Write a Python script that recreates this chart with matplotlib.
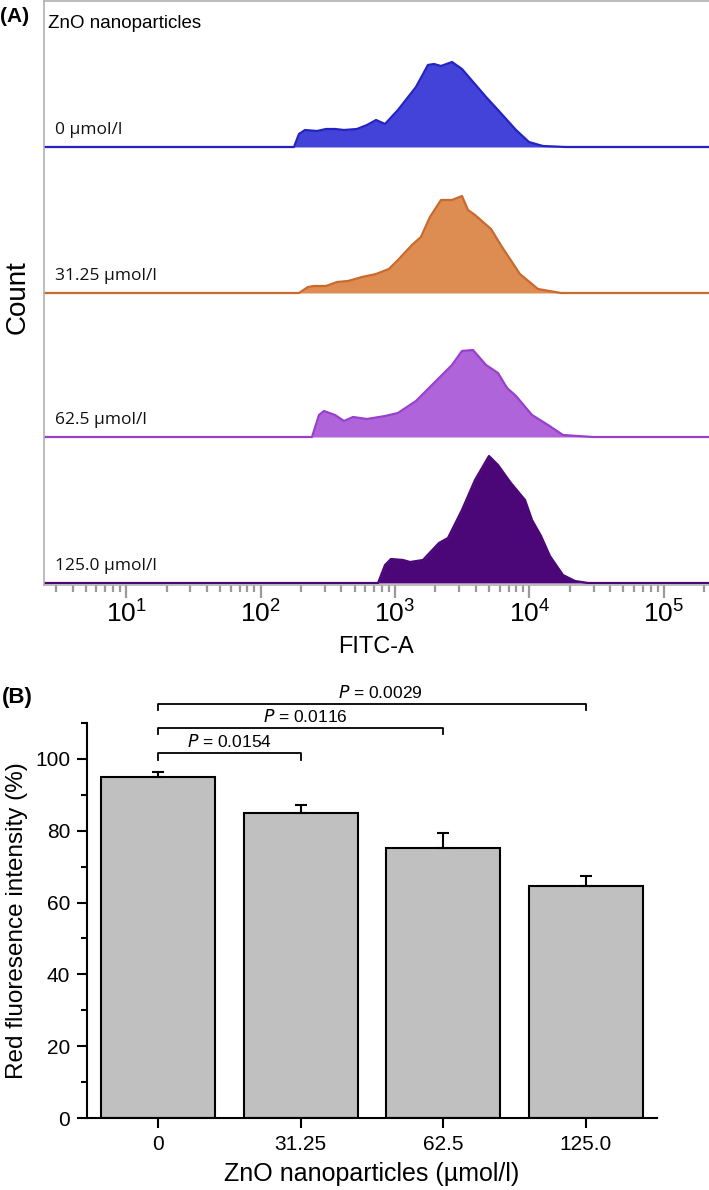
import matplotlib
matplotlib.use("Agg")
import matplotlib.pyplot as plt
import numpy as np
from matplotlib.ticker import LogLocator, NullFormatter, MultipleLocator, FixedLocator

# ---- data ----
# (A) flow cytometry histograms: log10(FITC-A) and count (relative)
conc_labels = ["0 \u00b5mol/l", "31.25 \u00b5mol/l", "62.5 \u00b5mol/l", "125.0 \u00b5mol/l"]

logx_0 = [2.249, 2.286, 2.331, 2.420, 2.487, 2.554, 2.621, 2.717, 2.792, 2.859, 2.926,
          3.022, 3.156, 3.245, 3.290, 3.342, 3.424, 3.498, 3.677, 3.766, 3.900, 3.996,
          4.100, 4.271]
cnt_0 = [0, 13, 17, 16, 18, 18, 17, 18, 22, 27, 23, 37, 60, 82, 83, 81, 85, 78, 50,
         37, 17, 5, 1, 0]

logx_31 = [2.286, 2.353, 2.398, 2.487, 2.569, 2.651, 2.755, 2.859, 2.955, 3.022, 3.126,
           3.193, 3.260, 3.342, 3.424, 3.498, 3.543, 3.595, 3.714, 3.796, 3.929, 4.063,
           4.234]
cnt_31 = [0, 6, 7, 7, 11, 12, 16, 19, 24, 33, 48, 56, 76, 93, 93, 97, 83, 78, 64, 46,
          19, 4, 0]

logx_62 = [2.383, 2.435, 2.472, 2.554, 2.621, 2.688, 2.792, 2.926, 3.022, 3.156, 3.290,
           3.424, 3.498, 3.580, 3.677, 3.766, 3.833, 3.900, 4.019, 4.138, 4.249, 4.472]
cnt_62 = [0, 22, 26, 22, 16, 20, 18, 21, 24, 36, 54, 72, 86, 87, 72, 64, 49, 41, 22,
          12, 2, 0]

logx_125 = [2.874, 2.926, 2.970, 3.059, 3.112, 3.208, 3.327, 3.394, 3.498, 3.595, 3.699,
            3.766, 3.862, 3.967, 4.019, 4.086, 4.152, 4.249, 4.338, 4.435]
cnt_125 = [0, 18, 24, 23, 21, 23, 40, 45, 73, 103, 127, 118, 100, 83, 63, 47, 27, 8,
           2, 0]

# (B) bar chart
groups = ["0", "31.25", "62.5", "125.0"]
red_fluor = [95.0, 84.8, 75.3, 64.5]
red_err = [1.3, 2.3, 4.2, 2.8]
p_pairs = [(0, 1, "0.0154"), (0, 2, "0.0116"), (0, 3, "0.0029")]
p_heights = [101.6, 108.6, 115.3]

# ---- figure ----
W, H = 709, 1190
fig = plt.figure(figsize=(W / 100, H / 100), dpi=100)
sans = ["Liberation Sans", "DejaVu Sans"]


def px_box(l, t, r, b):
    return [l / W, 1 - b / H, (r - l) / W, (b - t) / H]


# ---- panel A ----
axA = fig.add_axes(px_box(44, 1, 709, 585))
xmin, xmax = 10 ** 0.39, 10 ** 5.335
axA.set_xscale("log")
axA.set_xlim(xmin, xmax)
axA.set_ylim(-2, 582)

offsets = [436, 290, 146, 0]
fills = ["#4343d9", "#dd8c52", "#b064d9", "#4b0678"]
edges = ["#2323c4", "#c96a2c", "#9840cc", "#4b0678"]
series = [(logx_0, cnt_0), (logx_31, cnt_31), (logx_62, cnt_62), (logx_125, cnt_125)]

for (lx, c), off, fc, ec, lab in zip(series, offsets, fills, edges, conc_labels):
    x = np.concatenate([[xmin], 10 ** np.array(lx), [xmax]])
    y = np.concatenate([[0], np.array(c, dtype=float), [0]]) + off
    axA.fill_between(x, off, y, color=fc, lw=0)
    axA.plot(x, y, color=ec, lw=1.6, solid_joinstyle="round")
    axA.text(10 ** 0.47, off + 17, lab, fontsize=12.5, family=["Open Sans", "DejaVu Sans"],
             va="center", ha="left", color="#111111")

axA.text(10 ** 0.42, 560, "ZnO nanoparticles", fontsize=13.5, family=sans,
         va="center", ha="left")

axA.spines["right"].set_visible(False)
for s in ["left", "top", "bottom"]:
    axA.spines[s].set_color("#b0b0b0")
    axA.spines[s].set_linewidth(1.2)

axA.set_yticks([])
axA.xaxis.set_major_locator(LogLocator(base=10, numticks=10))
axA.xaxis.set_minor_locator(LogLocator(base=10, subs=np.arange(2, 10), numticks=100))
axA.xaxis.set_minor_formatter(NullFormatter())
axA.tick_params(axis="x", which="major", length=9, width=1.6, color="#9a9a9a",
                labelsize=19, pad=2)
axA.tick_params(axis="x", which="minor", length=5, width=1.6, color="#9a9a9a")
for t in axA.get_xticklabels():
    t.set_family(sans)

axA.set_xlabel("FITC-A", fontsize=17, family=sans, labelpad=6)
fig.text(18 / W, 1 - 297 / H, "Count", rotation=90, fontsize=20,
         family=sans, ha="center", va="center")
fig.text(0 / W, 1 - 16 / H, "(A)", fontsize=15, fontweight="bold",
         family=sans, ha="left", va="center")

# ---- panel B ----
axB = fig.add_axes(px_box(87, 723, 657, 1118))
xpos = np.arange(len(groups))
axB.bar(xpos, red_fluor, width=0.8, color="#c0c0c0", edgecolor="black", linewidth=1.5, zorder=2)
axB.errorbar(xpos, red_fluor, yerr=[np.zeros(len(red_err)), red_err], fmt="none",
             ecolor="black", elinewidth=1.5, capsize=4, capthick=1.5, zorder=3)
axB.set_xlim(-0.5, 3.5)
axB.set_ylim(0, 110)
axB.set_xticks(xpos)
axB.set_xticklabels(groups)
axB.yaxis.set_major_locator(MultipleLocator(20))
axB.yaxis.set_minor_locator(FixedLocator([10, 30, 50, 70, 90, 110]))
axB.tick_params(axis="both", which="major", length=7, width=1.5, labelsize=15, pad=5)
axB.tick_params(axis="y", which="minor", length=4, width=1.5)
for t in axB.get_xticklabels() + axB.get_yticklabels():
    t.set_family(sans)
axB.spines["top"].set_visible(False)
axB.spines["right"].set_visible(False)
axB.spines["left"].set_linewidth(1.5)
axB.spines["bottom"].set_linewidth(1.5)

# significance brackets
for (i, j, p), h in zip(p_pairs, p_heights):
    axB.plot([i, i, j, j], [h - 1.8, h, h, h - 1.8], color="black", lw=1.3, clip_on=False)
    axB.text((i + j) / 2 + 0.03 * (j - i - 1), h + 0.9, "$P$ = " + p, ha="center", va="bottom",
             fontsize=12.5, family=sans)

axB.set_ylabel("Red fluoresence intensity (%)", fontsize=17.5, family=sans, labelpad=5)
axB.set_xlabel("ZnO nanoparticles (\u00b5mol/l)", fontsize=18, family=sans, labelpad=6)
fig.text(2 / W, 1 - 697 / H, "(B)", fontsize=16, fontweight="bold",
         family=sans, ha="left", va="center")

fig.savefig("out.png", dpi=100)
